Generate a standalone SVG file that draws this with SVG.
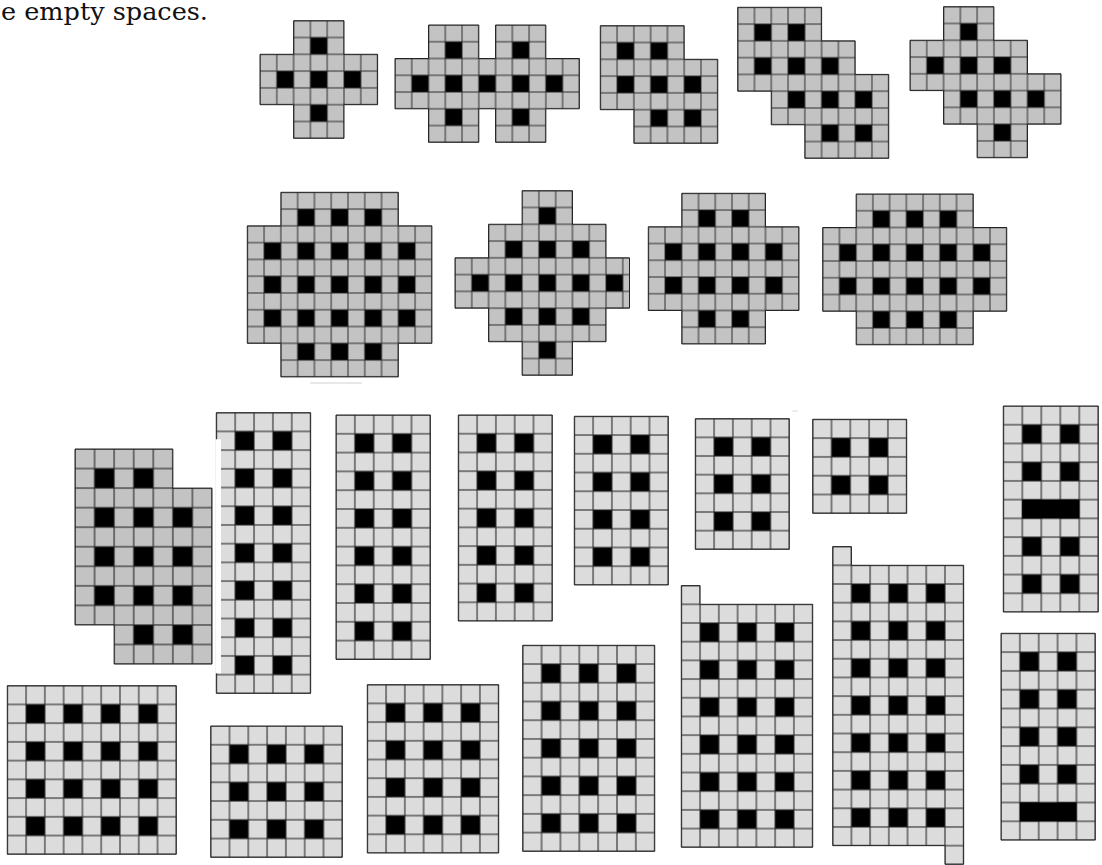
<svg xmlns="http://www.w3.org/2000/svg" width="1102" height="865" viewBox="0 0 1102 865">
<style>
.dk{fill:url(#pd);stroke:#222;stroke-width:1;vector-effect:non-scaling-stroke}
.lt{fill:url(#pl);stroke:#222;stroke-width:1;vector-effect:non-scaling-stroke}
.bar{fill:#000}
.cap{font-family:"DejaVu Serif","Liberation Serif",serif;font-size:24px;fill:#111}
.faint{fill:#e8e8e8}
</style>
<defs>
<pattern id="pd" patternUnits="userSpaceOnUse" width="2" height="2">
<rect width="2" height="2" fill="#2e2e2e"/>
<rect x="0.03" y="0.03" width="0.94" height="0.94" fill="#c3c3c3"/>
<rect x="1.03" y="0.03" width="0.94" height="0.94" fill="#c3c3c3"/>
<rect x="0.03" y="1.03" width="0.94" height="0.94" fill="#c3c3c3"/>
<rect x="1.02" y="1.02" width="0.96" height="0.96" fill="#000"/>
</pattern>
<pattern id="pl" patternUnits="userSpaceOnUse" width="2" height="2">
<rect width="2" height="2" fill="#2e2e2e"/>
<rect x="0.03" y="0.03" width="0.94" height="0.94" fill="#dcdcdc"/>
<rect x="1.03" y="0.03" width="0.94" height="0.94" fill="#dcdcdc"/>
<rect x="0.03" y="1.03" width="0.94" height="0.94" fill="#dcdcdc"/>
<rect x="1.02" y="1.02" width="0.96" height="0.96" fill="#000"/>
</pattern>
</defs>
<rect width="1102" height="865" fill="#fff"/>
<text class="cap" x="1" y="20" textLength="207" lengthAdjust="spacingAndGlyphs">e empty spaces.</text>

<g id="shape-a" transform="translate(260,20.7) scale(16.8)"><path class="dk" d="M2 0H5V2H7V5H5V7H2V5H0V2H2Z"/></g>
<g id="shape-b" transform="translate(395,25) scale(16.76)"><path class="dk" d="M2 0H5V2H6V0H9V2H11V5H9V7H6V5H5V7H2V5H0V2H2Z"/></g>
<g id="shape-c" transform="translate(600.3,25.7) scale(16.78,16.8)"><path class="dk" d="M0 0H5V2H7V7H2V5H0Z"/></g>
<g id="shape-d" transform="translate(737.7,7.3) scale(16.78)"><path class="dk" d="M0 0H5V2H7V4H9V9H4V7H2V5H0Z"/></g>
<g id="shape-e" transform="translate(910,6.7) scale(16.78)"><path class="dk" d="M2 0H5V2H7V4H9V7H7V9H4V7H2V5H0V2H2Z"/></g>

<g id="shape-f" transform="translate(247.3,192.3) scale(16.78)"><path class="dk" d="M2 0H9V2H11V9H9V11H2V9H0V2H2Z"/></g>
<rect class="faint" x="310" y="382" width="52" height="2"/>
<g id="shape-g" transform="translate(455,190.7) scale(16.78)"><path class="dk" d="M4 0H7V2H9V4H10.4V7H9V9H7V11H4V9H2V7H0V4H2V2H4Z"/></g>
<g id="shape-h" transform="translate(648.3,193.3) scale(16.74)"><path class="dk" d="M2 0H7V2H9V7H7V9H2V7H0V2H2Z"/></g>
<g id="shape-i" transform="translate(822.7,194) scale(16.73,16.75)"><path class="dk" d="M2 0H9V2H11V7H9V9H2V7H0V2H2Z"/></g>

<g id="shape-j" transform="translate(75,449) scale(19.57,19.55)"><path class="dk" d="M0 0H5V2H7V11H2V9H0Z"/></g>
<g id="shape-k">
<g transform="translate(216.3,412.7) scale(18.87,18.71)"><path class="lt" d="M0 0H5V15H0Z"/></g>
<rect x="215.3" y="439.3" width="5.7" height="234" fill="#fff"/>
</g>
<g id="shape-l" transform="translate(336,415) scale(18.87,18.8)"><path class="lt" d="M0 0H5V13H0Z"/></g>
<g id="shape-m" transform="translate(458.3,415) scale(18.8,18.73)"><path class="lt" d="M0 0H5V11H0Z"/></g>
<g id="shape-n" transform="translate(574.3,416.3) scale(18.8,18.74)"><path class="lt" d="M0 0H5V9H0Z"/></g>
<g id="shape-o" transform="translate(695.3,418.7) scale(18.8,18.66)"><path class="lt" d="M0 0H5V7H0Z"/></g>
<rect class="faint" x="792" y="410.3" width="6" height="1.5"/>
<g id="shape-p" transform="translate(812.7,419.3) scale(18.8)"><path class="lt" d="M0 0H5V5H0Z"/></g>
<g id="shape-q" transform="translate(1003.3,406) scale(19,18.73)"><path class="lt" d="M0 0H5V11H0Z"/><rect class="bar" x="1" y="5" width="3" height="1"/></g>
<g id="shape-r" transform="translate(1001,633.3) scale(18.86,18.8)"><path class="lt" d="M0 0H5V11H0Z"/><rect class="bar" x="1" y="9" width="3" height="1"/></g>

<g id="shape-s" transform="translate(7.3,685.7) scale(18.78,18.73)"><path class="lt" d="M0 0H9V9H0Z"/></g>
<g id="shape-t" transform="translate(210.7,726) scale(18.8,18.76)"><path class="lt" d="M0 0H7V7H0Z"/></g>
<g id="shape-u" transform="translate(367.3,684.7) scale(18.77,18.7)"><path class="lt" d="M0 0H7V9H0Z"/></g>
<g id="shape-v" transform="translate(522.7,645.3) scale(18.86,18.73)"><path class="lt" d="M0 0H7V11H0Z"/></g>
<g id="shape-w" transform="translate(681.3,604.3) scale(18.77,18.69)"><path class="lt" d="M0 -1H1V0H7V13H0Z"/></g>
<g id="shape-x" transform="translate(832.7,565.3) scale(18.71,18.69)"><path class="lt" d="M0 -1H1V0H7V16H6V15H0Z"/></g>
</svg>
